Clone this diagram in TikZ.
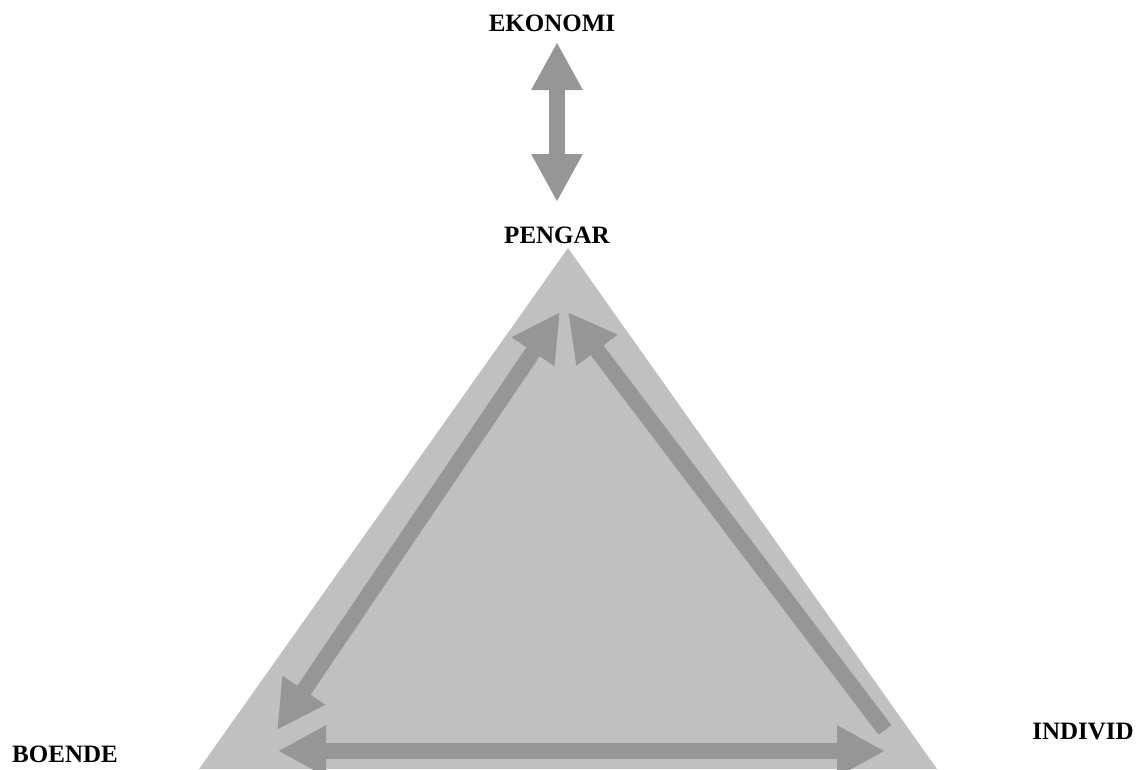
\documentclass[tikz,border=0pt]{standalone}
\usepackage{fontspec}
\setmainfont{Liberation Serif}
\usetikzlibrary{arrows.meta}
\definecolor{trifill}{RGB}{192,192,192}
\definecolor{flowgray}{RGB}{150,150,150}

\begin{document}
\begin{tikzpicture}[x=1pt,y=-1pt,
  lbl/.style={font=\fontsize{25}{30}\selectfont\bfseries,anchor=base,inner sep=0pt},
  flow/.style={flowgray,line width=16pt},
  both/.style={flow,{Triangle[length=48pt,width=48pt]}-{Triangle[length=48pt,width=48pt]}},
  one/.style={flow,-{Triangle[length=48pt,width=48pt]}}]
  \useasboundingbox (0,0) rectangle (1143,769);
  % triangle
  \fill[trifill] (568,248) -- (937,769) -- (199,769) -- cycle;
  % labels
  \node[lbl] (ekonomi) at (552,31){EKONOMI};
  \node[lbl] (pengar) at (557,243){PENGAR};
  \node[lbl] (boende) at (65,762){BOENDE};
  \node[lbl] (individ) at (1083,739){INDIVID};
  % arrow ends
  \coordinate (ek) at (557,42);
  \coordinate (pe) at (557,202);
  \coordinate (topL) at (560,312);
  \coordinate (topR) at (568,312);
  \coordinate (botL) at (277,730);
  \coordinate (botR) at (885,730);
  \coordinate (baseL) at (278,751);
  \coordinate (baseR) at (885,751);
  % arrows
  \draw[both] (ek) -- (pe);
  \draw[both] (topL) -- (botL);
  \draw[one] (botR) -- (topR);
  \draw[both] (baseL) -- (baseR);
\end{tikzpicture}
\end{document}
